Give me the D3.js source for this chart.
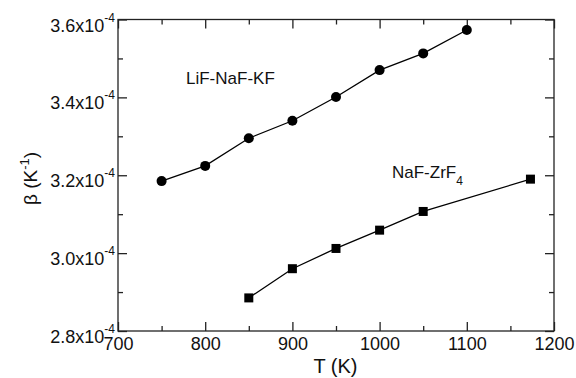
<!DOCTYPE html>
<html>
<head>
<meta charset="utf-8">
<script src="https://cdn.jsdelivr.net/npm/d3@7"></script>
<style>
  body { margin: 0; background: #fff; }
  text { font-family: "Liberation Sans", Arial, sans-serif; fill: #111; }
</style>
</head>
<body>
<div class="canvas"></div>
<script>
// data
const lifT = [750, 800, 850, 900, 950, 1000, 1050, 1100];
const lifBeta = [3.185, 3.224, 3.295, 3.340, 3.401, 3.470, 3.513, 3.573]; // x1e-4
const nafT = [850, 900, 950, 1000, 1050, 1173];
const nafBeta = [2.885, 2.960, 3.012, 3.059, 3.107, 3.190]; // x1e-4
const xTicks = [700, 800, 900, 1000, 1100, 1200];
const yTicks = [2.8, 3.0, 3.2, 3.4, 3.6];

// margins and dimensions
const w = 576;
const h = 378;
const margin = { top: 19.5, right: 22, bottom: 47, left: 118 };
const graphWidth = w - margin.left - margin.right;
const graphHeight = h - margin.top - margin.bottom;

const svg = d3.select(".canvas").append("svg").attr("width", w).attr("height", h);
const graph = svg.append("g").attr("transform", `translate(${margin.left}, ${margin.top})`);

const x = d3.scaleLinear().domain([700, 1200]).range([0, graphWidth]);
const y = d3.scaleLinear().domain([2.8, 3.6]).range([graphHeight, 0]);

// frame
graph.append("rect")
  .attr("width", graphWidth).attr("height", graphHeight)
  .attr("fill", "none").attr("stroke", "#222").attr("stroke-width", 1.3);

// inward ticks on all four sides, major + minor
const minorX = d3.range(750, 1200, 100);
const minorY = [2.9, 3.1, 3.3, 3.5];
function styleAxis(g) {
  g.select(".domain").remove();
  g.selectAll("line").attr("stroke", "#222").attr("stroke-width", 1.3);
}
graph.append("g").attr("transform", `translate(0, ${graphHeight})`)
  .call(d3.axisBottom(x).tickValues(xTicks).tickSize(-9).tickPadding(6).tickFormat(d3.format("d")))
  .call(styleAxis)
  .call(g => g.selectAll("text").attr("font-size", 18).attr("font-family", null));
graph.append("g").attr("transform", `translate(0, ${graphHeight})`)
  .call(d3.axisBottom(x).tickValues(minorX).tickSize(-5).tickFormat(""))
  .call(styleAxis);
graph.append("g")
  .call(d3.axisTop(x).tickValues(xTicks).tickSize(-9).tickFormat(""))
  .call(styleAxis);
graph.append("g")
  .call(d3.axisTop(x).tickValues(minorX).tickSize(-5).tickFormat(""))
  .call(styleAxis);
graph.append("g")
  .call(d3.axisLeft(y).tickValues(yTicks).tickSize(-9).tickFormat(""))
  .call(styleAxis);
graph.append("g")
  .call(d3.axisLeft(y).tickValues(minorY).tickSize(-5).tickFormat(""))
  .call(styleAxis);
graph.append("g").attr("transform", `translate(${graphWidth}, 0)`)
  .call(d3.axisRight(y).tickValues(yTicks).tickSize(-9).tickFormat(""))
  .call(styleAxis);
graph.append("g").attr("transform", `translate(${graphWidth}, 0)`)
  .call(d3.axisRight(y).tickValues(minorY).tickSize(-5).tickFormat(""))
  .call(styleAxis);

// y tick labels with superscript exponent
const yLab = graph.append("g").selectAll("text").data(yTicks).enter().append("text")
  .attr("x", -3)
  .attr("y", d => y(d) + 12)
  .attr("text-anchor", "end")
  .attr("font-size", 18);
yLab.append("tspan").text(d => d.toFixed(1) + "x10");
yLab.append("tspan").attr("dy", -10).attr("font-size", 12).text("-4");

// lines and markers
const line = d3.line().x(d => x(d[0])).y(d => y(d[1]));
const lif = d3.zip(lifT, lifBeta);
const naf = d3.zip(nafT, nafBeta);

graph.append("path").datum(lif).attr("d", line)
  .attr("fill", "none").attr("stroke", "#000").attr("stroke-width", 1.3);
graph.append("path").datum(naf).attr("d", line)
  .attr("fill", "none").attr("stroke", "#000").attr("stroke-width", 1.3);

graph.selectAll("circle").data(lif).enter().append("circle")
  .attr("cx", d => x(d[0])).attr("cy", d => y(d[1])).attr("r", 5).attr("fill", "#000");
graph.selectAll("rect.sq").data(naf).enter().append("rect")
  .attr("class", "sq")
  .attr("x", d => x(d[0]) - 4.5).attr("y", d => y(d[1]) - 4.5)
  .attr("width", 9).attr("height", 9).attr("fill", "#000");

// series labels
svg.append("text").attr("x", 186).attr("y", 84).attr("font-size", 17).text("LiF-NaF-KF");
const nafLabel = svg.append("text").attr("x", 392).attr("y", 177.5).attr("font-size", 17);
nafLabel.append("tspan").text("NaF-ZrF");
nafLabel.append("tspan").attr("dy", 7).attr("font-size", 12).text("4");

// axis titles
svg.append("text").attr("x", 335.5).attr("y", 373).attr("text-anchor", "middle")
  .attr("font-size", 20).text("T (K)");
const yTitle = svg.append("text")
  .attr("transform", "translate(37, 178.5) rotate(-90)")
  .attr("text-anchor", "middle").attr("font-size", 19);
yTitle.append("tspan").text("\u03b2 (K");
yTitle.append("tspan").attr("dy", -8).attr("font-size", 13).text("-1");
yTitle.append("tspan").attr("dy", 8).text(")");
</script>
</body>
</html>
